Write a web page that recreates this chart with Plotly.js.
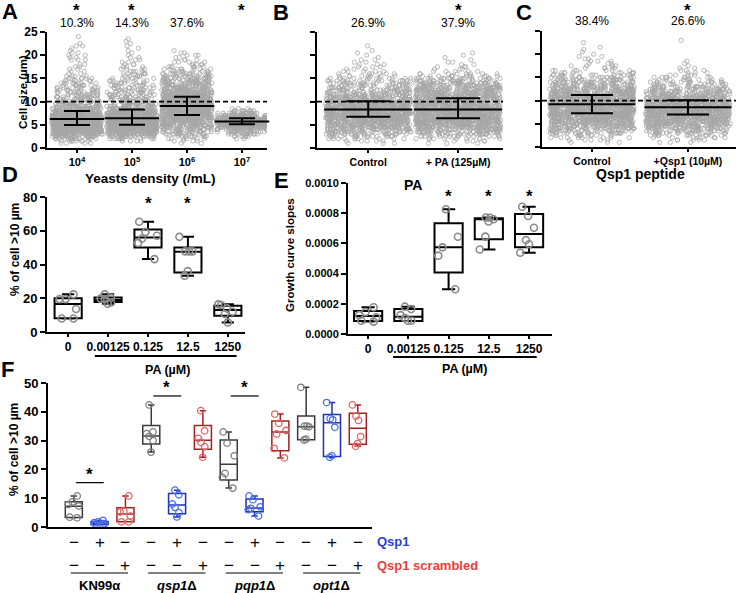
<!DOCTYPE html>
<html><head><meta charset="utf-8">
<script src="https://cdn.plot.ly/plotly-3.0.1.min.js"></script>
<style>html,body{margin:0;padding:0;background:#fff}#chart{width:736px;height:593px}</style>
</head><body><div id="chart"></div>
<script>
// ================= DATA =================
// Cell-size levels (µm) used for the dot clouds of panels A-C (counts per level)
const sizeLevels = [1,1.5,2,2.5,3,3.5,4,4.5,5,5.5,6,6.5,7,7.5,8,8.5,9,9.5,10,10.5,11,11.5,12,12.5,13,13.5,14,14.5,15,15.5,16,16.5,17,17.5,18,18.5,19,19.5,20,20.5,21,21.5,22,22.5,23,23.5,24,24.5];
const sizeCutoff = 10;

// Panel A
const densityLabels = ['10<sup>4</sup>','10<sup>5</sup>','10<sup>6</sup>','10<sup>7</sup>'];
const countsDensity1e4 = [4,8,14,24,36,48,56,64,68,70,68,62,54,44,34,26,22,18,16,14,14,12,12,10,10,8,8,6,6,4,2,2,2,2,2,0,3,2,2,2,1,1,2,1,0,0,1,0];
const countsDensity1e5 = [0,4,10,20,32,44,54,62,66,68,66,60,54,46,34,28,22,18,16,14,14,12,12,10,10,10,8,8,6,6,6,4,4,3,3,2,2,2,1,1,1,1,1,1,1,1,0,0];
const countsDensity1e6 = [2,4,6,10,14,18,22,26,30,34,38,42,46,50,52,54,54,52,50,46,42,38,34,30,26,24,22,20,18,16,14,10,8,6,5,4,3,2,3,2,1,0,0,0,0,0,0,0];
const countsDensity1e7 = [0,0,2,6,12,20,24,40,72,88,84,60,36,20,10,3,0,0,0,0,0,0,0,0,0,0,0,0,0,0,0,0,0,0,0,0,0,0,0,0,0,0,0,0,0,0,0,0];
const aMedian = [6.25, 6.4, 9.05, 5.7];
const aQ1 = [4.96, 5.0, 7.1, 5.1];
const aQ3 = [8.0, 8.3, 11.06, 6.4];
const aPercent = ['10.3%', '14.3%', '37.6%', ''];
const aStar = [true, true, false, true];

// Panel B
const bLabels = ['Control', '+ PA (125µM)'];
const countsBControl = [3,5,10,16,22,28,34,40,46,52,58,62,66,68,68,66,62,56,50,44,38,32,28,24,22,20,18,16,12,8,6,5,3,3,3,2,2,1,1,1,1,0,1,0,0,0,0,0];
const countsBPA = [3,5,10,16,22,30,38,46,54,60,64,66,66,64,62,60,58,56,54,52,50,48,46,42,38,34,30,24,18,12,8,5,3,3,2,2,1,1,1,1,0,0,0,0,0,0,0,0];
const bMedian = [8.3, 8.3];
const bQ1 = [6.75, 6.4];
const bQ3 = [10.1, 10.7];
const bPercent = ['26.9%', '37.9%'];
const bStar = [false, true];

// Panel C
const cLabels = ['Control', '+Qsp1 (10µM)'];
const countsCControl = [3,5,8,12,18,24,30,36,42,48,54,60,64,68,70,70,68,66,62,58,54,48,42,38,34,30,26,22,18,14,10,7,5,4,3,3,2,2,1,1,1,1,0,1,0,0,0,0];
const countsCQsp1 = [3,5,8,12,18,24,30,36,44,50,56,62,68,72,72,70,66,60,54,46,40,34,28,24,20,16,14,10,8,5,3,3,2,1,1,1,0,0,0,0,0,0,0,0,1,0,0,0];
const cMedian = [9.2, 8.55];
const cQ1 = [7.3, 7.0];
const cQ3 = [11.2, 10.1];
const cPercent = ['38.4%', '26.6%'];
const cStar = [false, true];

// Panel D  (% of cells > 10 µm vs PA dose)
const dDoses = ['0', '0.00125', '0.125', '12.5', '1250'];
const dValues = [
  [22.3, 19.5, 19.5, 13.6, 8.0, 8.0],
  [22.3, 20.3, 19.8, 19.5, 17.5, 16.8],
  [65.3, 59.3, 57.0, 55.4, 52.8, 43.2],
  [56.4, 47.8, 47.8, 47.8, 36.1, 33.3],
  [16.4, 16.0, 14.0, 12.0, 10.7, 5.7]
];
const dQ1 = [8.1, 17.8, 50.1, 35.3, 9.7];
const dMedian = [16.6, 19.0, 56.0, 47.5, 13.0];
const dQ3 = [20.0, 20.5, 60.8, 50.1, 15.6];
const dStar = [false, false, true, true, false];

// Panel E  (growth curve slopes vs PA dose)
const eDoses = ['0', '0.00125', '0.125', '12.5', '1250'];
const eValues = [
  [0.000177, 0.000145, 0.000125, 0.000110, 0.000088, 0.000082],
  [0.000181, 0.000165, 0.000125, 0.000105, 0.000088, 0.000088],
  [0.000826, 0.000644, 0.000574, 0.000519, 0.000296],
  [0.000772, 0.000770, 0.000760, 0.000745, 0.000645, 0.000560],
  [0.000843, 0.000781, 0.000704, 0.000622, 0.000594, 0.000538]
];
const eQ1 = [0.000086, 0.000086, 0.000408, 0.000627, 0.000574];
const eMedian = [0.000119, 0.000115, 0.000574, 0.000760, 0.000662];
const eQ3 = [0.000152, 0.000165, 0.000733, 0.000766, 0.000795];
const eStar = [false, false, true, true, true];

// Panel F  (% of cells > 10 µm per strain and treatment)
const fStrains = ['KN99α', 'qsp1Δ', 'pqp1Δ', 'opt1Δ'];
const fStrainLabels = ['<b>KN99α</b>', '<b><i>qsp1</i>Δ</b>', '<b><i>pqp1</i>Δ</b>', '<b><i>opt1</i>Δ</b>'];
const fTreatments = ['none', 'Qsp1', 'scrambled'];
const fQsp1Signs = ['−', '+', '−'];
const fScrambledSigns = ['−', '−', '+'];
const fNone = [
  [10.8, 8.7, 7.8, 7.3, 3.4, 3.2],
  [42.4, 33.0, 32.4, 31.5, 30.0, 26.0],
  [33.0, 29.1, 24.7, 18.6, 17.2, 13.5],
  [48.5, 35.0, 35.0, 34.8, 30.5, 30.2]
];
const fNoneQ1 = [3.3, 28.8, 16.3, 30.3];
const fNoneMedian = [7.2, 31.6, 21.8, 34.8];
const fNoneQ3 = [8.8, 35.2, 30.2, 38.5];
const fQsp1 = [
  [2.3, 1.8, 1.5, 1.2, 1.0, 0.8],
  [12.8, 11.2, 8.0, 6.8, 5.0, 3.5],
  [10.8, 9.5, 7.0, 6.5, 6.0, 3.8],
  [43.2, 37.7, 37.2, 34.6, 24.7, 24.2]
];
const fQsp1Q1 = [0.9, 4.6, 5.3, 24.5];
const fQsp1Median = [1.3, 7.6, 6.6, 36.2];
const fQsp1Q3 = [1.9, 11.6, 9.7, 39.1];
const fScrambled = [
  [10.8, 5.5, 5.2, 3.8, 1.8, 1.8],
  [40.4, 33.4, 30.8, 29.4, 27.9, 24.2],
  [39.2, 36.0, 33.5, 32.3, 27.3, 24.0],
  [42.4, 38.5, 37.0, 31.4, 29.0, 28.0]
];
const fScrambledQ1 = [1.8, 27.0, 26.5, 28.7];
const fScrambledMedian = [4.5, 30.1, 33.0, 34.3];
const fScrambledQ3 = [6.7, 35.2, 36.8, 39.5];
// significant pairs (strain index) and bar heights
const fSignificant = [0, 1, 2];
const fBarY = [15.4, 45.5, 45.5];

// ================= HELPERS =================
const W = 736, H = 593;
const px = x => x / W;
const py = y => 1 - y / H;
const FONT = 'Liberation Sans, Arial, sans-serif';

function expand(levels, counts) {
  const out = [];
  counts.forEach((c, i) => { for (let k = 0; k < c; k++) out.push(levels[i]); });
  return out;
}
function cloudTrace(cats, countsList, xa, ya, width) {
  const x = [], y = [];
  countsList.forEach((counts, gi) => {
    expand(sizeLevels, counts).forEach(v => { x.push(cats[gi]); y.push(v); });
  });
  return {type: 'box', x, y, xaxis: xa, yaxis: ya, boxpoints: 'all', jitter: 1, pointpos: 0, width,
    line: {width: 0, color: 'rgba(0,0,0,0)'}, fillcolor: 'rgba(0,0,0,0)',
    marker: {symbol: 'circle-open', size: 4.2, color: '#a6a6a6', line: {width: 0.8}}, hoverinfo: 'skip'};
}
function statTrace(cats, med, q1, q3, xa, ya, lineSize, capHalf) {
  return {type: 'scatter', mode: 'markers', x: cats, y: med, xaxis: xa, yaxis: ya, cliponaxis: false,
    marker: {symbol: 'line-ew', size: lineSize, color: 'black', line: {color: 'black', width: 2}},
    error_y: {type: 'data', symmetric: false, array: q3.map((v, i) => v - med[i]),
      arrayminus: med.map((v, i) => v - q1[i]), color: 'black', thickness: 2, width: capHalf},
    hoverinfo: 'skip'};
}
// box outline from the quartiles; whiskers to min / max of the points
function boxStats(cats, groups, q1, med, q3, xa, ya, width, ww, lineColor, lw) {
  return {type: 'box', x: cats, q1, median: med, q3,
    lowerfence: groups.map(g => Math.min(...g)), upperfence: groups.map(g => Math.max(...g)),
    xaxis: xa, yaxis: ya, boxpoints: false, width, whiskerwidth: ww,
    line: {color: lineColor, width: lw}, fillcolor: 'rgba(255,255,255,0)', hoverinfo: 'skip'};
}
function boxPoints(cats, groups, xa, ya, width, ptColor, size, lw) {
  const x = [], y = [];
  groups.forEach((g, gi) => g.forEach(v => { x.push(cats[gi]); y.push(v); }));
  return {type: 'box', x, y, xaxis: xa, yaxis: ya, boxpoints: 'all', jitter: 0.75, pointpos: 0, width,
    line: {width: 0, color: 'rgba(0,0,0,0)'}, fillcolor: 'rgba(0,0,0,0)',
    marker: {symbol: 'circle-open', size, color: ptColor, line: {width: lw}}, hoverinfo: 'skip'};
}
function note(text, x, y, font, opts) {
  return Object.assign({text, x: px(x), y: py(y), xref: 'paper', yref: 'paper', showarrow: false,
    xanchor: 'center', yanchor: 'middle', font}, opts || {});
}
function axNote(text, xref, xIndex, y, font) {
  return {text, xref, x: xIndex, yref: 'paper', y: py(y), showarrow: false, xanchor: 'center', yanchor: 'middle', font};
}
const fnt = (size, weight, color) => ({family: FONT, size, color: color || 'black', weight: weight || 'normal'});

// ================= TRACES =================
const traces = [];
traces.push(cloudTrace(densityLabels, [countsDensity1e4, countsDensity1e5, countsDensity1e6, countsDensity1e7], 'x', 'y', 0.92));
traces.push(statTrace(densityLabels, aMedian, aQ1, aQ3, 'x', 'y', 39, 13));
traces.push(cloudTrace(bLabels, [countsBControl, countsBPA], 'x2', 'y2', 0.95));
traces.push(statTrace(bLabels, bMedian, bQ1, bQ3, 'x2', 'y2', 63, 22));
traces.push(cloudTrace(cLabels, [countsCControl, countsCQsp1], 'x3', 'y3', 0.88));
traces.push(statTrace(cLabels, cMedian, cQ1, cQ3, 'x3', 'y3', 62, 21));

traces.push(boxStats(dDoses, dValues, dQ1, dMedian, dQ3, 'x4', 'y4', 0.68, 0.45, 'black', 2));
traces.push(boxPoints(dDoses, dValues, 'x4', 'y4', 0.68, '#8a8a8a', 7, 1.6));
traces.push(boxStats(eDoses, eValues, eQ1, eMedian, eQ3, 'x5', 'y5', 0.7, 0.47, 'black', 2));
traces.push(boxPoints(eDoses, eValues, 'x5', 'y5', 0.7, '#8a8a8a', 7, 1.6));

const fKey = (s, t) => s + ' / ' + t;
const fCats = [];
fStrains.forEach(s => fTreatments.forEach(t => fCats.push(fKey(s, t))));
const fColors = {none: ['#3a3a3a', '#7c7c7c'], Qsp1: ['#1f2fbf', '#4a6fe3'], scrambled: ['#a3211f', '#e06464']};
[[fNone, fNoneQ1, fNoneMedian, fNoneQ3, 'none'],
 [fQsp1, fQsp1Q1, fQsp1Median, fQsp1Q3, 'Qsp1'],
 [fScrambled, fScrambledQ1, fScrambledMedian, fScrambledQ3, 'scrambled']].forEach(([vals, q1, med, q3, t]) => {
  const cats = fStrains.map(s => fKey(s, t));
  traces.push(boxStats(cats, vals, q1, med, q3, 'x6', 'y6', 0.66, 0.38, fColors[t][0], 1.5));
  traces.push(boxPoints(cats, vals, 'x6', 'y6', 0.66, fColors[t][1], 6.5, 1.3));
});

// ================= LAYOUT =================
const axBase = () => ({showline: true, linecolor: 'black', linewidth: 2, ticks: 'outside', tickcolor: 'black',
  tickwidth: 2, ticklen: 5, showgrid: false, zeroline: false, fixedrange: true,
  tickfont: fnt(12, 'bold')});
function ax(o) { const a = axBase(); Object.keys(o).forEach(k => { a[k] = o[k]; }); return a; }

const layout = {
  width: W, height: H, margin: {l: 0, r: 0, t: 0, b: 0},
  paper_bgcolor: 'white', plot_bgcolor: 'rgba(0,0,0,0)', showlegend: false, boxmode: 'overlay',
  font: {family: FONT, color: 'black'},
  xaxis: ax({domain: [px(47), px(267)], anchor: 'y', type: 'category', range: [-0.545, 3.455], ticklen: 3,
    tickfont: fnt(11, 'bold')}),
  yaxis: ax({domain: [py(148), py(32)], anchor: 'x', range: [0, 25], dtick: 5}),
  xaxis2: ax({domain: [px(317), px(503)], anchor: 'y2', type: 'category', range: [-0.57, 1.5], ticklen: 3,
    tickfont: fnt(10.5, 'bold')}),
  yaxis2: ax({domain: [py(148), py(32)], anchor: 'x2', range: [0, 25], dtick: 5, showticklabels: false}),
  xaxis3: ax({domain: [px(542), px(736)], anchor: 'y3', type: 'category', range: [-0.52, 1.5], ticklen: 3,
    tickfont: fnt(10.5, 'bold')}),
  yaxis3: ax({domain: [py(147), py(31)], anchor: 'x3', range: [0, 25], dtick: 5, showticklabels: false}),
  xaxis4: ax({domain: [px(47), px(245)], anchor: 'y4', type: 'category', range: [-0.53, 4.43], ticklen: 3}),
  yaxis4: ax({domain: [py(332), py(197)], anchor: 'x4', range: [0, 80], dtick: 20, tickfont: fnt(13, 'bold')}),
  xaxis5: ax({domain: [px(348), px(552)], anchor: 'y5', type: 'category', range: [-0.5, 4.57], ticklen: 3}),
  yaxis5: ax({domain: [py(334), py(183)], anchor: 'x5', range: [0, 0.001], dtick: 0.0002, tickformat: '.4f',
    tickfont: fnt(11, 'bold')}),
  xaxis6: ax({domain: [px(48), px(372)], anchor: 'y6', type: 'category', categoryorder: 'array', categoryarray: fCats,
    range: [-1.0, 11.55], showticklabels: false, ticks: ''}),
  yaxis6: ax({domain: [py(527), py(383)], anchor: 'x6', range: [0, 50], dtick: 10, tickfont: fnt(13, 'bold')}),
  shapes: [],
  annotations: []
};

// cutoff dashed lines
['x', 'x2', 'x3'].forEach((xa, i) => {
  layout.shapes.push({type: 'line', xref: xa + ' domain', yref: ['y', 'y2', 'y3'][i], x0: 0, x1: 1,
    y0: sizeCutoff, y1: sizeCutoff, line: {color: 'black', width: 1.8, dash: '5px,3px'}});
});
// PA underline bars (D, E)
layout.shapes.push({type: 'line', xref: 'x4', yref: 'paper', x0: 0.67, x1: 4.22, y0: py(356), y1: py(356), line: {color: 'black', width: 2.2}});
layout.shapes.push({type: 'line', xref: 'x5', yref: 'paper', x0: 0.62, x1: 4.19, y0: py(357), y1: py(357), line: {color: 'black', width: 2.2}});
// F group underlines
fStrains.forEach((s, g) => {
  layout.shapes.push({type: 'line', xref: 'x6', yref: 'paper', x0: 3 * g - 0.12, x1: 3 * g + 2.1,
    y0: py(573), y1: py(573), line: {color: 'black', width: 1}});
});
// F significance bars
fSignificant.forEach((g, k) => {
  layout.shapes.push({type: 'line', xref: 'x6', yref: 'y6', x0: 3 * g + 0.08, x1: 3 * g + 1.16,
    y0: fBarY[k], y1: fBarY[k], line: {color: 'black', width: 1.2}});
});

const A = layout.annotations;
// panel letters
[['A', 0, 11], ['B', 271, 13], ['C', 514, 13], ['D', 0, 175], ['E', 272, 181], ['F', -1, 369]].forEach(([t, x, y]) => {
  A.push(note(t, x, y, fnt(22, 'bold'), {xanchor: 'left'}));
});
// percentages and stars A/B/C
function pctStars(xa, cats, pct, star, pctY, starY) {
  cats.forEach((c, i) => {
    if (pct[i]) A.push(axNote(pct[i], xa, i, pctY, fnt(12)));
    if (star[i]) A.push(axNote('*', xa, i, starY, fnt(17, 'bold')));
  });
}
pctStars('x', densityLabels, aPercent, aStar, 23, 10);
pctStars('x2', bLabels, bPercent, bStar, 23, 10);
pctStars('x3', cLabels, cPercent, cStar, 21, 10);
dDoses.forEach((d, i) => { if (dStar[i]) A.push(axNote('*', 'x4', i, 204, fnt(17, 'bold'))); });
eDoses.forEach((d, i) => { if (eStar[i]) A.push(axNote('*', 'x5', i, 197, fnt(17, 'bold'))); });
// F stars above significance bars
fSignificant.forEach((g, k) => {
  A.push({text: '*', xref: 'x6', x: 3 * g + 0.6, yref: 'y6', y: fBarY[k], yanchor: 'bottom', yshift: -3,
    showarrow: false, font: fnt(17, 'bold')});
});

// axis titles
A.push(note('Cell size (µm)', 23, 92, fnt(11.5, 'bold'), {textangle: -90}));
A.push(note('Yeasts density (/mL)', 150, 178, fnt(13.5, 'bold')));
A.push(note('Qsp1 peptide', 640, 174, fnt(14, 'bold')));
A.push(note('% of cell >10 µm', 15, 250, fnt(12, 'bold'), {textangle: -90}));
A.push(note('PA (µM)', 167, 370, fnt(12.5, 'bold')));
A.push(note('Growth curve slopes', 290, 255, fnt(11.5, 'bold'), {textangle: -90}));
A.push(note('PA (µM)', 465, 369, fnt(12.5, 'bold')));
A.push(note('PA', 413, 185, fnt(14, 'bold')));
A.push(note('% of cell >10 µm', 14, 450, fnt(12, 'bold'), {textangle: -90}));

// F sign rows and group labels
fStrains.forEach((s, g) => {
  fTreatments.forEach((t, ti) => {
    A.push(axNote(fQsp1Signs[ti], 'x6', 3 * g + ti, 542, fnt(17)));
    A.push(axNote(fScrambledSigns[ti], 'x6', 3 * g + ti, 565, fnt(17)));
  });
  A.push(axNote(fStrainLabels[g], 'x6', 3 * g + 1, 585, fnt(13)));
});
A.push(note('Qsp1', 375, 541, fnt(13, 'bold', '#2a3fd0'), {xanchor: 'left'}));
A.push(note('Qsp1 scrambled', 375, 565, fnt(13, 'bold', '#e8403a'), {xanchor: 'left'}));

Plotly.newPlot('chart', traces, layout, {staticPlot: true, displayModeBar: false});
</script>
</body></html>
